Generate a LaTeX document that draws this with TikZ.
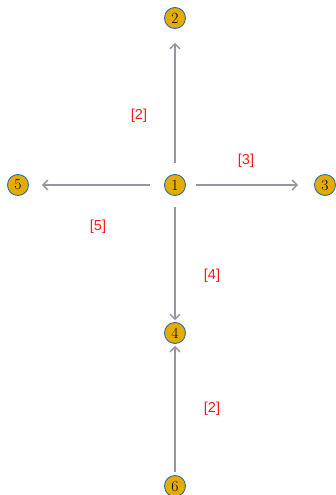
\documentclass[tikz,border=0pt]{standalone}
\usepackage{fontspec}
\newfontfamily\labfont{Liberation Sans}
\usetikzlibrary{arrows.meta}
\definecolor{nodefill}{HTML}{E5AC00}
\definecolor{nodeline}{HTML}{2E6E9E}
\definecolor{edgecol}{HTML}{9597A0}
\definecolor{labred}{HTML}{FF1A1A}
\tikzset{
  vertex/.style={circle, draw=nodeline, line width=0.9pt, fill=nodefill, minimum size=21pt, inner sep=0pt, font=\fontsize{15.5}{15.5}\selectfont},
  link/.style={draw=edgecol, line width=1.5pt, -{Straight Barb[length=5pt,width=10pt,line width=1.3pt]}},
  elabel/.style={text=labred, font=\labfont\fontsize{14.5}{14.5}\selectfont, inner sep=0pt}
}
\begin{document}
\begin{tikzpicture}[x=1pt,y=-1pt]
\useasboundingbox (0,0) rectangle (336,495);
\node[vertex] (n1) at (175,185) {1};
\node[vertex] (n2) at (175,18) {2};
\node[vertex] (n3) at (325,185) {3};
\node[vertex] (n5) at (18,185) {5};
\node[vertex] (n4) at (175,333) {4};
\node[vertex] (n6) at (175,486) {6};
\draw[link, shorten <=11pt, shorten >=14pt] (n1) -- (n2);
\draw[link, shorten <=10pt, shorten >=16pt] (n1) -- (n3);
\draw[link, shorten <=14pt, shorten >=13pt] (n1) -- (n5);
\draw[link, shorten <=11pt, shorten >=2pt] (n1) -- (n4);
\draw[link, shorten <=3pt, shorten >=2pt] (n6) -- (n4);
\node[elabel] (l12) at (139,116) {[2]};
\node[elabel] (l13) at (246,161) {[3]};
\node[elabel] (l15) at (98,227) {[5]};
\node[elabel] (l14) at (212,276) {[4]};
\node[elabel] (l64) at (212,409) {[2]};
\end{tikzpicture}
\end{document}
